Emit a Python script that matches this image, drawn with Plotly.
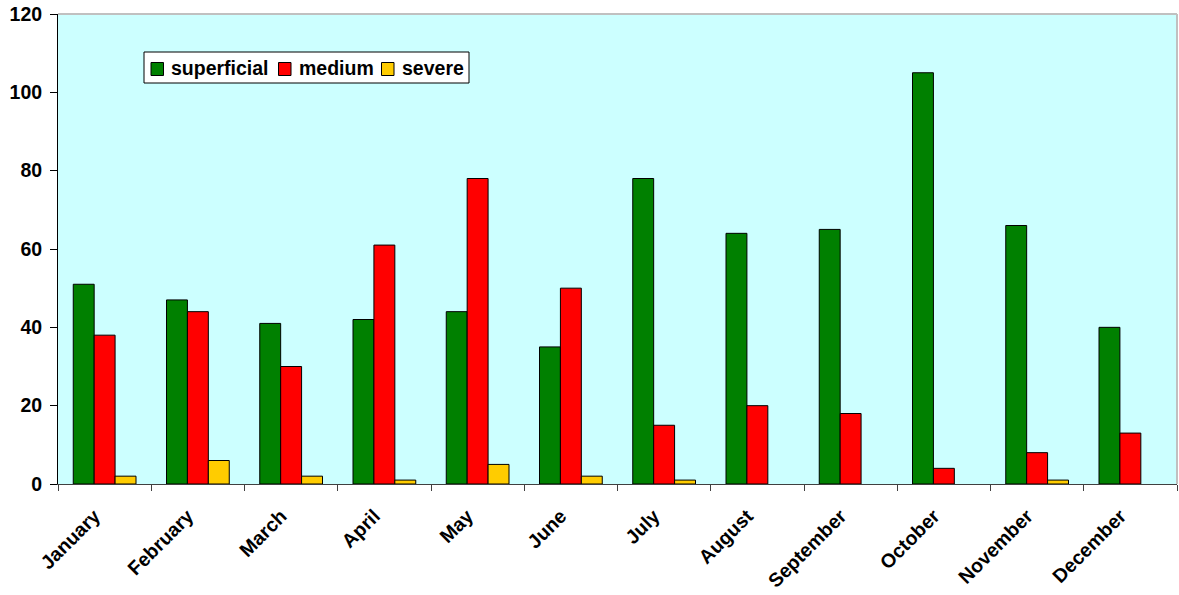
import plotly.graph_objects as go

months = ["January", "February", "March", "April", "May", "June", "July",
          "August", "September", "October", "November", "December"]
superficial = [51, 47, 41, 42, 44, 35, 78, 64, 65, 105, 66, 40]
medium = [38, 44, 30, 61, 78, 50, 15, 20, 18, 4, 8, 13]
severe = [2, 6, 2, 1, 5, 2, 1, 0, 0, 0, 1, 0]
series_names = ["superficial", "medium", "severe"]
series_colors = ["#008000", "#FF0000", "#FFCC00"]
y_ticks = [0, 20, 40, 60, 80, 100, 120]

FONT = "Liberation Sans, Arial, sans-serif"
W, H = 1179, 595
L, R, T, B = 58, 2, 14, 111
PW, PH = W - L - R, H - T - B


def px_x(p):
    return (p - L) / PW


def px_y(p):
    return (H - B - p) / PH


fig = go.Figure()
for name, vals, col in zip(series_names, [superficial, medium, severe], series_colors):
    fig.add_trace(go.Bar(
        x=months, y=vals, name=name, showlegend=False,
        marker=dict(color=col,
                    line=dict(color="#000000", width=[0 if v == 0 else 1 for v in vals]))))

fig.update_layout(
    width=W, height=H,
    margin=dict(l=L, r=R, t=T, b=B),
    paper_bgcolor="white",
    plot_bgcolor="#CCFFFF",
    barmode="group",
    bargap=0.327,
    bargroupgap=0,
    font=dict(family=FONT, size=19.5, color="#000000"),
    showlegend=False,
)
fig.update_xaxes(
    type="category", tickangle=-45, showgrid=False,
    showline=True, linecolor="#404040", linewidth=1,
    ticks="outside", tickson="boundaries", ticklen=6, tickcolor="#404040",
    tickfont=dict(family=FONT, size=19.5, color="#000000", weight="bold"),
    ticklabelstandoff=12, ticklabelshift=-10,
)
fig.update_yaxes(
    range=[0, 120], tickvals=y_ticks, showgrid=False,
    showline=True, linecolor="#000000", linewidth=1,
    ticks="outside", ticklen=7, tickcolor="#000000",
    tickfont=dict(family=FONT, size=19.5, color="#000000", weight="bold"),
    ticklabelstandoff=4,
    zeroline=False,
)
# plot-area border (top / right)
fig.add_shape(type="line", xref="paper", yref="paper", x0=0, x1=1, y0=1, y1=1,
              line=dict(color="#C0C0C0", width=2))
fig.add_shape(type="line", xref="paper", yref="paper", x0=1, x1=1, y0=0, y1=1,
              line=dict(color="#C0C0C0", width=2))

# legend box (manual, to match the compact original legend)
fig.add_shape(type="rect", xref="paper", yref="paper",
              x0=px_x(144), x1=px_x(469), y0=px_y(83), y1=px_y(52),
              fillcolor="white", line=dict(color="#000000", width=1))
sq_left = [151, 278.5, 381.5]
txt_left = [169, 296.5, 399.5]
for name, col, sx, tx in zip(series_names, series_colors, sq_left, txt_left):
    fig.add_shape(type="rect", xref="paper", yref="paper",
                  x0=px_x(sx), x1=px_x(sx + 12.5), y0=px_y(75.5), y1=px_y(62.5),
                  fillcolor=col, line=dict(color="#000000", width=1))
    fig.add_annotation(xref="paper", yref="paper", x=px_x(tx), y=px_y(68.5),
                       xanchor="left", yanchor="middle", showarrow=False,
                       text="<b>" + name + "</b>",
                       font=dict(family=FONT, size=19.5, color="#000000"))

fig.write_html("out.html")
